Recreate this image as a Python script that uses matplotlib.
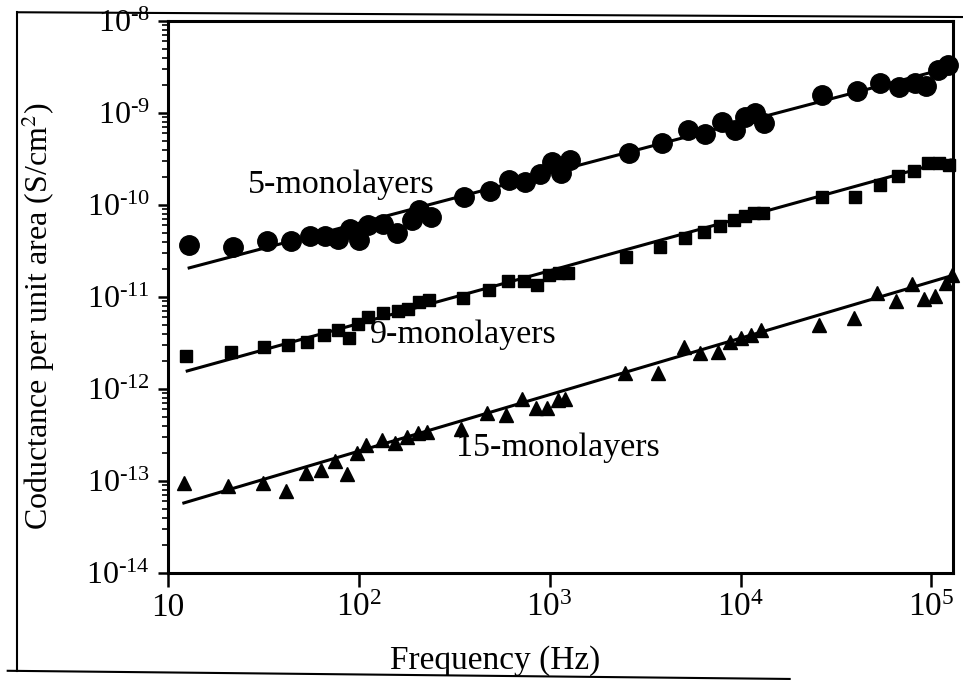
import matplotlib
matplotlib.use("Agg")
import matplotlib.pyplot as plt
import numpy as np
from matplotlib.lines import Line2D
from matplotlib.ticker import FixedLocator, NullLocator, LogLocator

plt.rcParams['font.family'] = ['Liberation Serif', 'DejaVu Serif']
plt.rcParams['mathtext.fontset'] = 'stix'

# 5-monolayers (circles)
f5 = [12.9, 21.8, 33.2, 44.3, 55.6, 66.6, 77.8, 89.8, 100, 111.6, 134, 159, 189, 206, 239,
      357, 485, 612, 745, 885, 1024, 1140, 1285, 2600, 3900, 5310, 6500, 7980, 9310,
      1.06e4, 1.19e4, 1.33e4, 2.67e4, 4.08e4, 5.41e4, 6.77e4, 8.18e4, 9.43e4, 1.09e5, 1.22e5]
g5 = [3.67e-11, 3.49e-11, 4.06e-11, 4.06e-11, 4.6e-11, 4.6e-11, 4.27e-11, 5.48e-11, 4.17e-11,
      6.07e-11, 6.2e-11, 4.97e-11, 6.87e-11, 8.83e-11, 7.41e-11, 1.22e-10, 1.42e-10, 1.87e-10,
      1.78e-10, 2.17e-10, 2.93e-10, 2.23e-10, 3.08e-10, 3.67e-10, 4.72e-10, 6.53e-10, 5.91e-10,
      7.98e-10, 6.53e-10, 9.06e-10, 1.0e-9, 7.78e-10, 1.57e-9, 1.73e-9, 2.12e-9, 1.92e-9,
      2.12e-9, 1.96e-9, 2.93e-9, 3.33e-9]

# 9-monolayers (squares)
f9 = [12.4, 21.3, 32.0, 42.7, 53.6, 65.7, 77.8, 88.8, 98.9, 112, 134, 161, 182, 206, 233,
      353, 480, 605, 736, 853, 988, 1113, 1254, 2505, 3802, 5129, 6430, 7780, 9200,
      1.05e4, 1.17e4, 1.31e4, 2.67e4, 3.98e4, 5.35e4, 6.7e4, 8.09e4, 9.66e4, 1.1e5, 1.24e5]
g9 = [2.28e-12, 2.52e-12, 2.86e-12, 3.01e-12, 3.24e-12, 3.86e-12, 4.38e-12, 3.58e-12, 5.09e-12,
      6.07e-12, 6.70e-12, 7.05e-12, 7.41e-12, 8.83e-12, 9.27e-12, 9.75e-12, 1.19e-11, 1.49e-11,
      1.49e-11, 1.35e-11, 1.73e-11, 1.82e-11, 1.82e-11, 2.72e-11, 3.49e-11, 4.38e-11, 5.09e-11,
      5.92e-11, 6.87e-11, 7.59e-11, 8.18e-11, 8.18e-11, 1.22e-10, 1.22e-10, 1.65e-10, 2.07e-10,
      2.34e-10, 2.86e-10, 2.86e-10, 2.72e-10]

# 15-monolayers (triangles)
f15 = [12.1, 20.5, 31.3, 41.7, 53.0, 63.4, 75.0, 86.6, 97.7, 109, 132, 155, 178, 204, 227,
       344, 468, 590, 718, 843, 964, 1100, 1210, 2477, 3715, 5070, 6140, 7610, 8780,
       1.01e4, 1.14e4, 1.28e4, 2.57e4, 3.94e4, 5.22e4, 6.54e4, 7.89e4, 9.2e4, 1.05e5, 1.19e5, 1.28e5]
g15 = [9.5e-14, 8.8e-14, 9.5e-14, 7.8e-14, 1.22e-13, 1.32e-13, 1.65e-13, 1.19e-13, 2.01e-13,
       2.46e-13, 2.79e-13, 2.59e-13, 3.01e-13, 3.33e-13, 3.41e-13, 3.67e-13, 5.48e-13, 5.21e-13,
       7.78e-13, 6.21e-13, 6.21e-13, 7.59e-13, 7.78e-13, 1.49e-12, 1.49e-12, 2.86e-12, 2.46e-12,
       2.52e-12, 3.24e-12, 3.58e-12, 3.86e-12, 4.38e-12, 4.97e-12, 5.92e-12, 1.10e-11, 9.06e-12,
       1.38e-11, 9.5e-12, 1.03e-11, 1.42e-11, 1.73e-11]

# fitted straight lines (end points)
fit5_f = [12.9, 1.22e5]
fit5_g = [2.07e-11, 3.08e-9]
fit9_f = [12.6, 1.26e5]
fit9_g = [1.57e-12, 3.08e-10]
fit15_f = [12.1, 1.31e5]
fit15_g = [5.77e-14, 1.73e-11]

xticks = [10, 1e2, 1e3, 1e4, 1e5]
xticklabels = ['10', '$\\mathdefault{10^{2}}$', '$\\mathdefault{10^{3}}$',
               '$\\mathdefault{10^{4}}$', '$\\mathdefault{10^{5}}$']
yticks = [1e-14, 1e-13, 1e-12, 1e-11, 1e-10, 1e-9, 1e-8]
yexps = ['14', '13', '12', '11', '10', '9', '8']
yticklabels = ['$\\mathdefault{10^{\u2010' + e + '}}$' for e in yexps]

fig = plt.figure(figsize=(9.63, 6.81), dpi=100)
ax = fig.add_axes([0.1745, 0.1586, 0.8152, 0.8106])

ax.plot(fit5_f, fit5_g, color='black', lw=2.2)
ax.plot(fit9_f, fit9_g, color='black', lw=2.2)
ax.plot(fit15_f, fit15_g, color='black', lw=2.2)
ax.plot(f5, g5, 'o', color='black', ms=14, clip_on=False)
ax.plot(f9, g9, 's', color='black', ms=8.5, clip_on=False)
ax.plot(f15, g15, '^', color='black', ms=9.5, clip_on=False)

ax.set_xscale('log')
ax.set_yscale('log')
ax.set_xlim(10, 1.3e5)
ax.set_ylim(1e-14, 1e-8)

ax.xaxis.set_major_locator(FixedLocator(xticks))
ax.set_xticklabels(xticklabels)
ax.xaxis.set_minor_locator(NullLocator())
ax.yaxis.set_major_locator(FixedLocator(yticks))
ax.set_yticklabels(yticklabels)
ax.yaxis.set_minor_locator(LogLocator(base=10, subs=np.arange(2, 10), numticks=20))
ax.yaxis.set_minor_formatter(plt.NullFormatter())

ax.tick_params(axis='x', which='major', direction='out', length=10, width=1.8,
               labelsize=24, pad=4, top=False)
ax.tick_params(axis='y', which='major', direction='out', length=7, width=1.8,
               labelsize=23, pad=6, right=False)
ax.tick_params(axis='y', which='minor', direction='out', length=4, width=1.2, right=False)
for s in ax.spines.values():
    s.set_linewidth(2.2)

ax.set_xlabel('Frequency (Hz)', fontsize=24)
ax.xaxis.set_label_coords(0.4166, -0.13)
ax.set_ylabel('Coductance per unit area (S/cm$^2$)', fontsize=23)
ax.yaxis.set_label_coords(-0.142, 0.466)

ax.text(26.3, 1.35e-10, '5-monolayers', fontsize=24.5, va='baseline', ha='left')
ax.text(114.4, 3.16e-12, '9-monolayers', fontsize=24.5, va='baseline', ha='left')
ax.text(324, 1.87e-13, '15-monolayers', fontsize=24.5, va='baseline', ha='left')

# outer frame of the scanned figure
fig.add_artist(Line2D([0.018, 0.018], [0.015, 0.982], color='black', lw=1.5))
fig.add_artist(Line2D([0.018, 1.0], [0.982, 0.975], color='black', lw=1.5))
fig.add_artist(Line2D([0.008, 0.82], [0.015, 0.003], color='black', lw=1.5))

fig.savefig('out.png', dpi=100)
